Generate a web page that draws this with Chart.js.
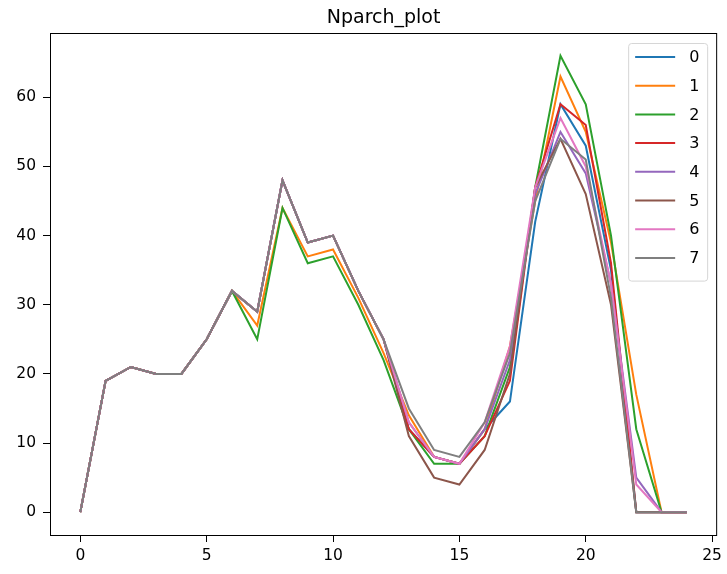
<!DOCTYPE html>
<html>
<head>
<meta charset="utf-8">
<script src="https://cdn.jsdelivr.net/npm/chart.js@4"></script>
<style>
  body { margin: 0; background: #fff; }
  #wrap { width: 727px; height: 574px; }
</style>
</head>
<body>
<div id="wrap"><canvas id="myChart"></canvas></div>
<script>
const titulo = 'Nparch_plot';
const ejeX = [0, 1, 2, 3, 4, 5, 6, 7, 8, 9, 10, 11, 12, 13, 14, 15, 16, 17, 18, 19, 20, 21, 22, 23, 24];
const ticksX = [0, 5, 10, 15, 20, 25];
const ticksY = [0, 10, 20, 30, 40, 50, 60];
const nombres = ['0', '1', '2', '3', '4', '5', '6', '7'];
const colores = ['#1f77b4', '#ff7f0e', '#2ca02c', '#d62728', '#9467bd', '#8c564b', '#e377c2', '#7f7f7f'];

const serie0 = [0, 19, 21, 20, 20, 25, 32, 29, 48, 39, 40, 32, 25, 12, 8, 7, 12, 16, 42, 59, 53, 35, 0, 0, 0];
const serie1 = [0, 19, 21, 20, 20, 25, 32, 27, 44, 37, 38, 31, 23, 14, 8, 7, 12, 24, 45, 63, 55, 39, 17, 0, 0];
const serie2 = [0, 19, 21, 20, 20, 25, 32, 25, 44, 36, 37, 30, 22, 12, 7, 7, 11, 21, 47, 66, 59, 40, 12, 0, 0];
const serie3 = [0, 19, 21, 20, 20, 25, 32, 29, 48, 39, 40, 32, 25, 12, 8, 7, 11, 19, 47, 59, 56, 36, 0, 0, 0];
const serie4 = [0, 19, 21, 20, 20, 25, 32, 29, 48, 39, 40, 32, 25, 13, 8, 7, 12, 22, 46, 55, 49, 33, 5, 0, 0];
const serie5 = [0, 19, 21, 20, 20, 25, 32, 29, 48, 39, 40, 32, 25, 11, 5, 4, 9, 20, 47, 54, 46, 30, 0, 0, 0];
const serie6 = [0, 19, 21, 20, 20, 25, 32, 29, 48, 39, 40, 32, 25, 13, 8, 7, 13, 24, 47, 57, 50, 33, 4, 0, 0];
const serie7 = [0, 19, 21, 20, 20, 25, 32, 29, 48, 39, 40, 32, 25, 15, 9, 8, 13, 23, 45, 54, 51, 31, 0, 0, 0];
const series = [serie0, serie1, serie2, serie3, serie4, serie5, serie6, serie7];

const ctx = document.getElementById('myChart');
const fuente = 'DejaVu Sans, sans-serif';

// margen del 5% como en matplotlib
function margen(min, max) {
  const m = (max - min) * 0.05;
  return { min: min - m, max: max + m };
}
const rangoX = margen(Math.min(...ejeX), Math.max(...ejeX));
const rangoY = margen(0, Math.max(...series.flat()));

// marco, titulo y leyenda dentro del area del grafico
const marcoPlugin = {
  id: 'marco',
  afterDraw(chart) {
    const c = chart.ctx;
    const a = chart.chartArea;
    c.save();
    c.strokeStyle = '#000';
    c.lineWidth = 1;
    c.strokeRect(a.left + 0.5, a.top + 0.5, a.right - a.left - 1, a.bottom - a.top);

    c.fillStyle = '#000';
    c.font = '19px ' + fuente;
    c.textAlign = 'center';
    c.textBaseline = 'alphabetic';
    c.fillText(titulo, (a.left + a.right) / 2, a.top - 10);

    // leyenda
    const filas = chart.data.datasets.length;
    const alto = 28.7;
    const ancho = 79;
    const x0 = a.right - 10 - ancho;
    const y0 = a.top + 10;
    const h = filas * alto + 8;
    c.beginPath();
    c.roundRect(x0 + 0.5, y0 + 0.5, ancho, h, 3);
    c.fillStyle = 'rgba(255,255,255,0.8)';
    c.fill();
    c.strokeStyle = '#d6d6d6';
    c.stroke();
    c.font = '16px ' + fuente;
    c.textAlign = 'left';
    c.textBaseline = 'middle';
    chart.data.datasets.forEach((ds, i) => {
      const y = y0 + 14 + i * alto;
      c.beginPath();
      c.moveTo(x0 + 7, y);
      c.lineTo(x0 + 47, y);
      c.strokeStyle = ds.borderColor;
      c.lineWidth = 2;
      c.stroke();
      c.fillStyle = '#000';
      c.fillText(ds.label, x0 + 61, y + 1);
    });
    c.restore();
  }
};

function soloTicks(lista) {
  return (scale) => {
    scale.ticks = lista.map((v) => ({ value: v }));
  };
}

const datasets = series.map((valores, i) => ({
  label: nombres[i],
  borderColor: colores[i],
  backgroundColor: colores[i],
  borderWidth: 2,
  pointRadius: 0,
  tension: 0,
  order: series.length - 1 - i,
  data: valores.map((v, j) => ({ x: ejeX[j], y: v }))
}));

const myChart = new Chart(ctx, {
  type: 'line',
  data: { datasets },
  options: {
    responsive: true,
    maintainAspectRatio: false,
    animation: false,
    layout: { padding: { top: 33, right: 5, left: 0, bottom: 0 } },
    plugins: {
      legend: { display: false },
      title: { display: false },
      tooltip: { enabled: false }
    },
    scales: {
      x: {
        type: 'linear',
        min: rangoX.min,
        max: rangoX.max,
        afterBuildTicks: soloTicks(ticksX),
        afterFit: (scale) => { scale.height = 39; },
        grid: { drawOnChartArea: false, color: '#000', tickLength: 7 },
        border: { display: false },
        ticks: { color: '#000', padding: 5, font: { family: fuente, size: 15.5 }, maxRotation: 0 }
      },
      y: {
        type: 'linear',
        min: rangoY.min,
        max: rangoY.max,
        afterBuildTicks: soloTicks(ticksY),
        afterFit: (scale) => { scale.width = 50; },
        grid: { drawOnChartArea: false, color: '#000', tickLength: 7 },
        border: { display: false },
        ticks: { color: '#000', padding: 7, font: { family: fuente, size: 15.5 } }
      }
    }
  },
  plugins: [marcoPlugin]
});
</script>
</body>
</html>
